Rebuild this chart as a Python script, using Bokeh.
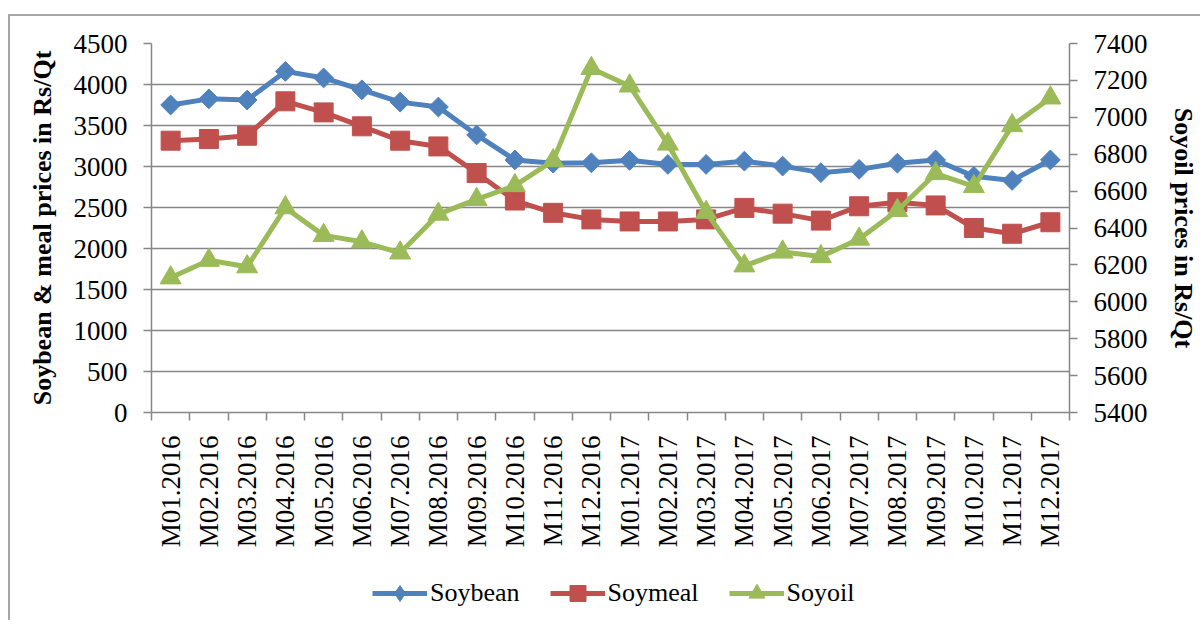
import math
from bokeh.plotting import figure
from bokeh.layouts import column
from bokeh.models import (Range1d, LinearAxis, FixedTicker, Legend, LegendItem,
                          ColumnDataSource)
from bokeh.embed import file_html
from bokeh.resources import INLINE

months = ["M01.2016", "M02.2016", "M03.2016", "M04.2016", "M05.2016", "M06.2016",
          "M07.2016", "M08.2016", "M09.2016", "M10.2016", "M11.2016", "M12.2016",
          "M01.2017", "M02.2017", "M03.2017", "M04.2017", "M05.2017", "M06.2017",
          "M07.2017", "M08.2017", "M09.2017", "M10.2017", "M11.2017", "M12.2017"]
soybean = [3750, 3825, 3810, 4160, 4080, 3935, 3785, 3725, 3385, 3080, 3040, 3045,
           3075, 3025, 3025, 3065, 3005, 2925, 2965, 3040, 3080, 2880, 2830, 3080]
soymeal = [3315, 3335, 3375, 3795, 3660, 3490, 3315, 3245, 2920, 2585, 2435, 2355,
           2330, 2330, 2355, 2495, 2425, 2340, 2515, 2565, 2525, 2250, 2180, 2320]
soyoil = [6130, 6225, 6190, 6510, 6360, 6325, 6265, 6475, 6555, 6630, 6765, 7265,
          7170, 6855, 6485, 6195, 6270, 6245, 6340, 6495, 6695, 6625, 6955, 7105]
series_names = ["Soybean", "Soymeal", "Soyoil"]
left_ticks = [0, 500, 1000, 1500, 2000, 2500, 3000, 3500, 4000, 4500]
right_ticks = [5400, 5600, 5800, 6000, 6200, 6400, 6600, 6800, 7000, 7200, 7400]

FONT = "Liberation Serif"
GRAY = "#868686"
BLUE = "#4F81BD"
RED = "#C0504D"
GREEN = "#9BBB59"

xs = list(range(len(months)))
src = ColumnDataSource(dict(x=xs, bean=soybean, meal=soymeal, oil=soyoil))

p = figure(width=1190, height=544, output_backend="svg", toolbar_location=None,
           x_range=Range1d(-0.5, len(months) - 0.5), y_range=Range1d(0, 4500),
           min_border_left=141, min_border_right=129, min_border_top=27,
           min_border_bottom=148)
p.extra_y_ranges = {"oil": Range1d(5400, 7400)}
p.outline_line_color = None
p.background_fill_color = "white"
p.border_fill_color = "white"

# x axis: labels at category centres, tick marks at category boundaries
xax = p.xaxis[0]
xax.ticker = FixedTicker(ticks=xs, minor_ticks=[i - 0.5 for i in range(len(months) + 1)])
xax.major_label_overrides = {i: m for i, m in enumerate(months)}
xax.major_label_orientation = math.pi / 2
xax.major_tick_out = 0
xax.major_tick_in = 0
xax.minor_tick_out = 8
xax.minor_tick_in = 0
xax.minor_tick_line_color = GRAY
xax.minor_tick_line_width = 1.5
xax.axis_line_color = GRAY
xax.axis_line_width = 1.5
xax.major_label_standoff = 15
xax.major_label_text_font = FONT
xax.major_label_text_font_size = "27px"
xax.major_label_text_color = "black"

yax = p.yaxis[0]
yax.ticker = FixedTicker(ticks=left_ticks)
yax.major_tick_out = 8
yax.major_tick_in = 0
yax.minor_tick_line_color = None
yax.major_tick_line_color = GRAY
yax.major_tick_line_width = 1.5
yax.axis_line_color = GRAY
yax.axis_line_width = 1.5
yax.major_label_standoff = 16
yax.major_label_text_font = FONT
yax.major_label_text_font_size = "27px"
yax.major_label_text_color = "black"
yax.axis_label = "Soybean & meal prices in Rs/Qt"
yax.axis_label_text_font = FONT
yax.axis_label_text_font_size = "26px"
yax.axis_label_text_font_style = "bold"
yax.axis_label_text_color = "black"
yax.axis_label_standoff = 14

rax = LinearAxis(y_range_name="oil", ticker=FixedTicker(ticks=right_ticks))
rax.major_tick_out = 8
rax.major_tick_in = 0
rax.minor_tick_line_color = None
rax.major_tick_line_color = GRAY
rax.major_tick_line_width = 1.5
rax.axis_line_color = GRAY
rax.axis_line_width = 1.5
rax.major_label_standoff = 16
rax.major_label_text_font = FONT
rax.major_label_text_font_size = "27px"
rax.major_label_text_color = "black"
rax.axis_label = "Soyoil prices in Rs/Qt"
rax.axis_label_text_font = FONT
rax.axis_label_text_font_size = "26px"
rax.axis_label_text_font_style = "bold"
rax.axis_label_text_color = "black"
rax.axis_label_standoff = 18
p.add_layout(rax, "right")

p.xgrid.grid_line_color = None
p.ygrid.grid_line_color = GRAY
p.ygrid.grid_line_width = 1.5

styles = [
    dict(color=BLUE, marker="square", angle=math.pi / 4, size=14, legend_marker="diamond"),
    dict(color=RED, marker="square", angle=0.0, size=19, legend_marker="square"),
    dict(color=GREEN, marker="triangle", angle=0.0, size=21, legend_marker="triangle"),
]
cols = ["bean", "meal", "oil"]
for col, st in zip(cols, styles):
    kw = {"y_range_name": "oil"} if col == "oil" else {}
    p.line("x", col, source=src, line_color=st["color"], line_width=5, **kw)
    p.scatter("x", col, source=src, marker=st["marker"], angle=st["angle"],
              size=st["size"], fill_color=st["color"], line_color=st["color"], **kw)

# legend strip below the chart (its frame is aligned with the chart's frame);
# the series are drawn there outside the visible range only so the legend has glyphs
q = figure(width=1190, height=60, output_backend="svg", toolbar_location=None,
           x_range=Range1d(-1000, -999), y_range=Range1d(-1000, -999),
           x_axis_type=None, y_axis_type=None, min_border=0)
q.outline_line_color = None
q.xgrid.grid_line_color = None
q.ygrid.grid_line_color = None
q.background_fill_color = "white"
q.border_fill_color = "white"
items = []
for name, col, st in zip(series_names, cols, styles):
    r1 = q.line("x", col, source=src, line_color=st["color"], line_width=5)
    r2 = q.scatter("x", col, source=src, marker=st["legend_marker"],
                   fill_color=st["color"], line_color=st["color"])
    items.append(LegendItem(label=name, renderers=[r1, r2]))
legend = Legend(items=items, orientation="horizontal", location=(221, 7),
                glyph_width=55, glyph_height=40, label_standoff=3, spacing=30,
                padding=0, margin=0, border_line_color=None,
                background_fill_alpha=0,
                label_text_font=FONT, label_text_font_size="26px",
                label_text_color="black")
q.add_layout(legend, "center")

layout = column(p, q, margin=(14, 0, 0, 8),
                styles={"border-left": "2px solid #a6a6a6", "border-top": "2px solid #a6a6a6"})
open("out.html", "w").write(file_html(layout, INLINE))
